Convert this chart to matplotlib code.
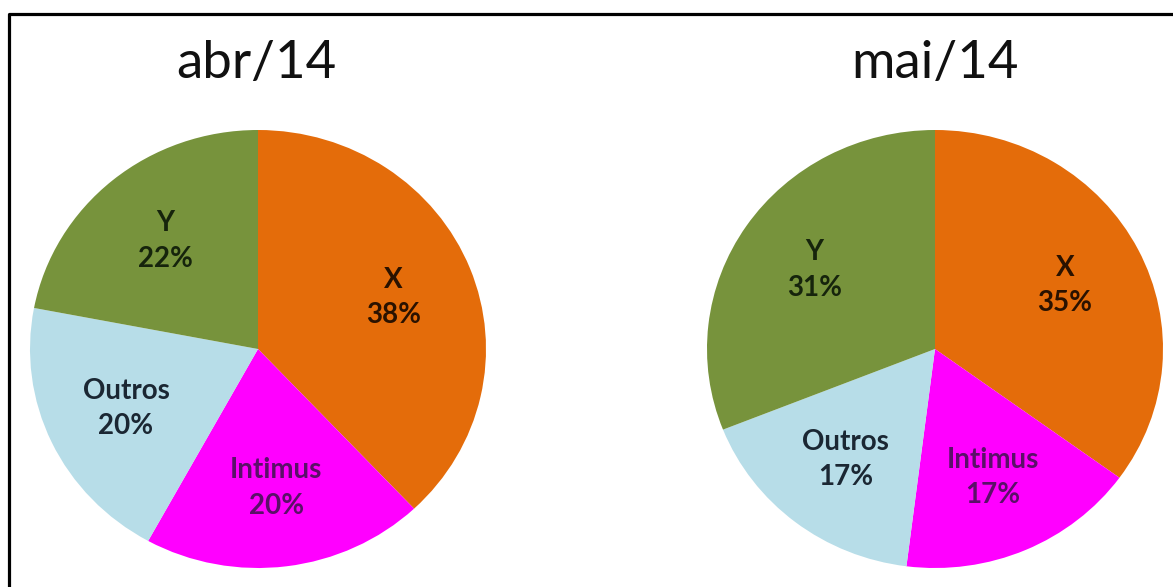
import matplotlib
matplotlib.use("Agg")
import matplotlib.pyplot as plt
from matplotlib.lines import Line2D

plt.rcParams['font.family'] = ['Lato', 'DejaVu Sans']

# dados
categorias = ['X', 'Intimus', 'Outros', 'Y']
abr14 = [38, 20, 20, 22]
mai14 = [35, 17, 17, 31]
titulos = ['abr/14', 'mai/14']

cores = ['#E46C0A', '#FF00FF', '#B7DDE8', '#77933C']
cores_texto = ['#2a1200', '#5a1068', '#1b2733', '#16240c']

fig = plt.figure(figsize=(11.73, 5.87), dpi=100)

# posicao de cada pizza (em fracao da figura)
posicoes = [[30 / 1173, 19 / 587, 456 / 1173, 438 / 587],
            [707 / 1173, 19 / 587, 456 / 1173, 438 / 587]]
centros_titulo = [256 / 1173, 935 / 1173]

for valores, titulo, pos, cx in zip([abr14, mai14], titulos, posicoes, centros_titulo):
    ax = fig.add_axes(pos)
    rotulos = iter([f'{c}\n{v}%' for c, v in zip(categorias, valores)])
    wedges, texts, autotexts = ax.pie(valores, colors=cores, startangle=90,
                                      counterclock=False, radius=1,
                                      autopct=lambda p: next(rotulos),
                                      pctdistance=0.64,
                                      wedgeprops=dict(linewidth=0))
    for t, cor in zip(autotexts, cores_texto):
        t.set_fontsize(20)
        t.set_fontweight('bold')
        t.set_color(cor)
        t.set_linespacing(1.45)
    ax.set_aspect('auto')
    ax.set_xlim(-1, 1)
    ax.set_ylim(-1, 1)
    fig.text(cx, 1 - 78 / 587, titulo, ha='center', va='baseline',
             fontsize=38, color='#111111')

# moldura (so esquerda e topo visiveis)
xl = 9 / 1173
yt = 1 - 14 / 587
fig.add_artist(Line2D([xl, xl, 1], [0, yt, yt], transform=fig.transFigure,
                      color='black', linewidth=2.3))

fig.savefig('out.png', dpi=100)
